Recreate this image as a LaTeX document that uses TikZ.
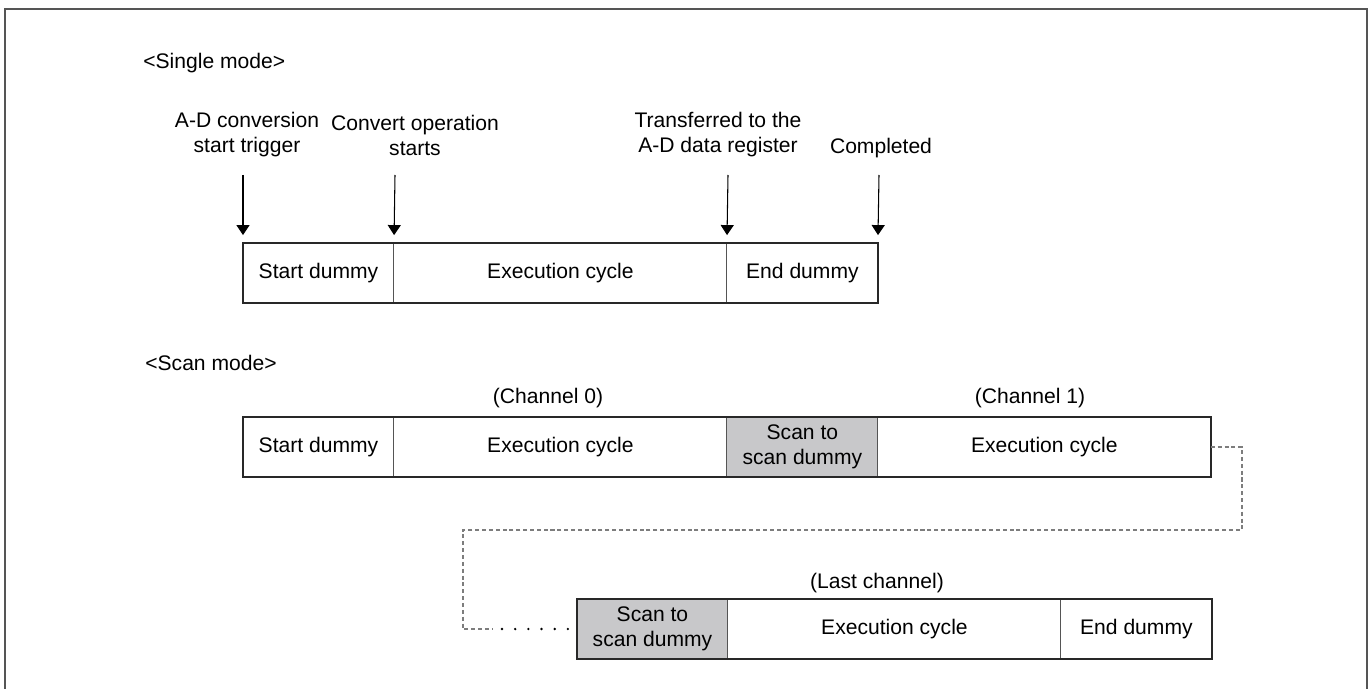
\documentclass[tikz,border=0pt]{standalone}
\usepackage{fontspec}
\setmainfont{Liberation Sans}
\usepackage{xcolor}
\usepackage{tikz}
\definecolor{framegray}{RGB}{85,85,85}
\definecolor{boxline}{RGB}{40,40,40}
\definecolor{cellgray}{RGB}{200,200,202}
\definecolor{linkgray}{RGB}{125,125,125}
\usetikzlibrary{positioning,arrows.meta}

\begin{document}
\begin{tikzpicture}[
    x=0.02cm, y=-0.02cm,
    font=\fontsize{12}{14.2}\selectfont,
    cell/.style={rectangle, draw=framegray, line width=0.55pt, outer sep=0pt, inner sep=0pt, minimum height=1.2cm, align=center},
    dummy/.style={cell, minimum width=3.02cm},
    exec/.style={cell, minimum width=6.66cm},
    scandummy/.style={dummy, fill=cellgray},
    outline/.style={draw=boxline, line width=1.1pt},
    trig/.style={-{Triangle[width=7.4pt,length=5.7pt]}, line width=0.6pt, shorten >=4.5pt},
    link/.style={draw=linkgray, line width=0.6pt, dash pattern=on 2.3pt off 1.6pt},
    dotlink/.style={line width=1.5pt, line cap=round, dash pattern=on 0pt off 7.5pt},
    lbl/.style={align=center, inner sep=0pt}
]
\useasboundingbox (0,0) rectangle (1372,689);
\draw[framegray, line width=0.85pt] (5,689) -- (5,9) -- (1367,9) -- (1367,689);

% single mode
\node[lbl, anchor=west] (tsingle) at (143,63) {<Single mode>};
\node[dummy, anchor=north west] (s1) at (243,243) {Start dummy};
\node[exec, right=0pt of s1] (s2) {Execution cycle};
\node[dummy, right=0pt of s2] (s3) {End dummy};
\draw[outline] (s1.north west) rectangle (s3.south east);

\node[lbl] (lbtrig) at (247,135) {A-D conversion\\start trigger};
\node[lbl] (lbconv) at (415,135) {Convert operation\\starts};
\node[lbl] (lbxfer) at (718,135) {Transferred to the\\A-D data register};
\node[lbl] (lbdone) at (881,148) {Completed};

\coordinate (a1) at (243,175);
\coordinate (a2) at (395,175);
\coordinate (a3) at (728,175);
\coordinate (a4) at (879,175);
\draw[trig] (a1) -- (s1.north west);
\draw[trig] (a2) -- (s2.north west);
\draw[trig] (a3) -- (s3.north west);
\draw[trig] (a4) -- (s3.north east);

% scan mode
\node[lbl, anchor=west] (tscan) at (145,363) {<Scan mode>};
\node[dummy, anchor=north west] (c1) at (243,417) {Start dummy};
\node[exec, right=0pt of c1] (c2) {Execution cycle};
\node[scandummy, right=0pt of c2] (c3) {Scan to\\scan dummy};
\node[exec, right=0pt of c3] (c4) {Execution cycle};
\draw[outline] (c1.north west) rectangle (c4.south east);
\node[lbl] (ch0) at (548,398) {(Channel 0)};
\node[lbl] (ch1) at (1030,398) {(Channel 1)};

\node[scandummy, anchor=north west] (l1) at (577,599) {Scan to\\scan dummy};
\node[exec, right=0pt of l1] (l2) {Execution cycle};
\node[dummy, right=0pt of l2] (l3) {End dummy};
\draw[outline] (l1.north west) rectangle (l3.south east);
\node[lbl] (chl) at (877,583) {(Last channel)};

% continuation
\coordinate (bendA) at (1242,530);
\coordinate (bendB) at (463,530);
\coordinate (dotsA) at (492,629);
\coordinate (dotsB) at (502,629);
\draw[link] (c4.east) -| (bendA) -- (bendB) |- (dotsA);
\draw[dotlink] (dotsB) -- (l1.west);

\end{tikzpicture}
\end{document}
